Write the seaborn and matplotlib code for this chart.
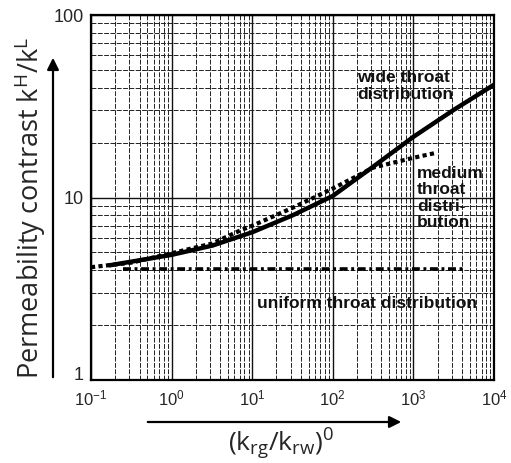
import numpy as np
import pandas as pd
import matplotlib
matplotlib.use("Agg")
import matplotlib.pyplot as plt
from matplotlib.ticker import LogLocator, FixedLocator, FixedFormatter, NullFormatter
from matplotlib.transforms import ScaledTranslation
import seaborn as sns

# Relative permeability ratio (x) and permeability contrast (y) for three
# pore-throat size distributions
wide_x = [0.17, 1.0, 3.2, 10, 32, 100, 320, 1000, 3200, 10000]
wide_y = [4.25, 4.85, 5.45, 6.45, 8.0, 10.2, 14.8, 21.5, 30.3, 41.5]

medium_x = [0.1, 0.32, 1.0, 3.2, 7.1, 10, 32, 100, 320, 1000, 1950]
medium_y = [4.15, 4.4, 4.95, 5.6, 6.6, 7.0, 8.8, 11.2, 14.6, 16.5, 17.6]

uniform_x = [0.25, 4200]
uniform_y = [4.05, 4.05]

x_ticks = [0.1, 1, 10, 100, 1000, 10000]
x_tick_labels = ["$\\mathregular{10^{-1}}$", "$\\mathregular{10^{0}}$", "$\\mathregular{10^{1}}$",
                 "$\\mathregular{10^{2}}$", "$\\mathregular{10^{3}}$", "$\\mathregular{10^{4}}$"]
y_ticks = [1, 10, 100]
y_tick_labels = ["1", "10", "100"]

sns.set_style("white")
plt.rcParams["font.family"] = ["Liberation Sans", "DejaVu Sans"]
plt.rcParams["mathtext.fontset"] = "custom"
plt.rcParams["mathtext.rm"] = "Liberation Sans"

W, H = 511, 463
fig = plt.figure(figsize=(W / 100, H / 100), dpi=100)
ax = fig.add_axes([91 / W, 1 - 380 / H, (494 - 91) / W, (380 - 15) / H])

ax.set_xscale("log")
ax.set_yscale("log")
ax.set_xlim(0.1, 10000)
ax.set_ylim(1, 100)

# log-paper grid
ax.xaxis.set_minor_locator(LogLocator(base=10, subs=np.arange(2, 10)))
ax.yaxis.set_minor_locator(LogLocator(base=10, subs=np.arange(2, 10)))
ax.xaxis.set_minor_formatter(NullFormatter())
ax.yaxis.set_minor_formatter(NullFormatter())
ax.grid(True, which="major", color="#111111", lw=1.0, ls="-")
ax.grid(True, which="minor", color="#222222", lw=0.7, ls=(0, (5, 1.5)))
ax.set_axisbelow(True)

df_wide = pd.DataFrame({"x": wide_x, "y": wide_y})
df_med = pd.DataFrame({"x": medium_x, "y": medium_y})
df_uni = pd.DataFrame({"x": uniform_x, "y": uniform_y})

sns.lineplot(data=df_wide, x="x", y="y", ax=ax, color="black", lw=3.2, sort=False)
sns.lineplot(data=df_med, x="x", y="y", ax=ax, color="black", lw=3.0,
             linestyle=(0, (1, 0.8)), sort=False)
sns.lineplot(data=df_uni, x="x", y="y", ax=ax, color="black", lw=2.6,
             linestyle=(0, (2.2, 1, 0.8, 1)), sort=False)

ax.xaxis.set_major_locator(FixedLocator(x_ticks))
ax.xaxis.set_major_formatter(FixedFormatter(x_tick_labels))
ax.yaxis.set_major_locator(FixedLocator(y_ticks))
ax.yaxis.set_major_formatter(FixedFormatter(y_tick_labels))
ax.tick_params(axis="both", which="both", length=0)
ax.tick_params(axis="x", labelsize=12, pad=6)
ax.tick_params(axis="y", labelsize=13, pad=5)
ax.set_xlabel("")
ax.set_ylabel("")
for s in ax.spines.values():
    s.set_color("black")
    s.set_linewidth(1.6)

# lift the bottom "1" so it sits above the first x label
fig.canvas.draw()
for t in ax.get_yticklabels():
    if t.get_text() == "1":
        t.set_transform(t.get_transform() + ScaledTranslation(0, 5 / 72, fig.dpi_scale_trans))

# curve annotations
lab = dict(fontsize=12.5, fontweight="bold", color="#111111", ha="left", va="center",
           transform=fig.transFigure)
fig.text(357 / W, 1 - 86 / H, "wide throat\ndistribution", linespacing=1.1, **lab)
fig.text(417 / W, 1 - 198 / H, "medium\nthroat\ndistri-\nbution", linespacing=1.1, **lab)
fig.text(257 / W, 1 - 303 / H, "uniform throat distribution", **lab)

# axis titles with direction arrows
fig.text(30 / W, 1 - 208 / H, "Permeability contrast k$\\mathregular{^{H}}$/k$\\mathregular{^{L}}$",
         rotation=90, ha="center", va="center", fontsize=19.5, family=["Open Sans", "DejaVu Sans"])
fig.text(281 / W, 1 - 444 / H, "(k$\\mathregular{_{rg}}$/k$\\mathregular{_{rw}}$)$\\mathregular{^{0}}$",
         ha="center", va="center", fontsize=19, family=["Open Sans", "DejaVu Sans"])

fig.patches.append(matplotlib.patches.FancyArrowPatch(
    (53 / W, 1 - 380 / H), (53 / W, 1 - 55 / H), transform=fig.transFigure,
    arrowstyle="-|>,head_length=7,head_width=3.5", color="black", lw=1.6))
fig.patches.append(matplotlib.patches.FancyArrowPatch(
    (145 / W, 1 - 422 / H), (404 / W, 1 - 422 / H), transform=fig.transFigure,
    arrowstyle="-|>,head_length=7,head_width=3.5", color="black", lw=1.6))

fig.savefig("out.png", dpi=100, facecolor="white")
